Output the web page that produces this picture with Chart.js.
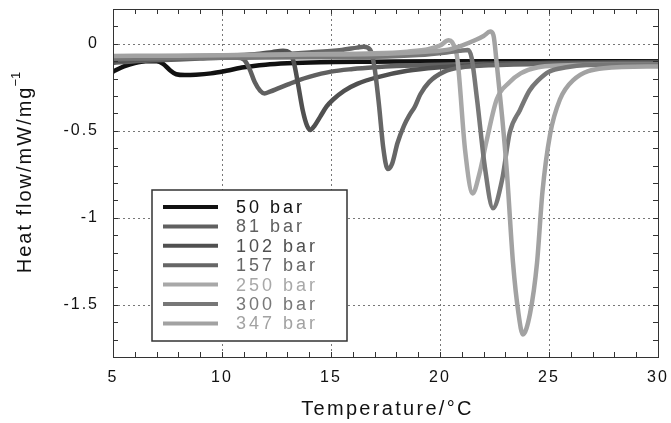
<!DOCTYPE html>
<html><head><meta charset="utf-8">
<script src="https://cdn.jsdelivr.net/npm/chart.js@4.4.0/dist/chart.umd.min.js"></script>
<style>html,body{margin:0;padding:0;background:#fff}#wrap{width:671px;height:423px;position:relative}</style>
</head><body><div id="wrap"><canvas id="c" width="671" height="423"></canvas></div>
<script>
// ---- data ----
const seriesLabels = ['50 bar','81 bar','102 bar','157 bar','250 bar','300 bar','347 bar'];
const seriesColors = ['#111111','#606060','#505050','#666666','#a8a8a8','#777777','#a2a2a2'];

const temp50 = [5, 5.5, 6, 6.5, 7, 7.3, 7.6, 7.9, 8.3, 8.8, 9.5, 10.2, 11, 12, 13, 14.5, 17, 20, 25, 30];
const flow50 = [-0.16, -0.13, -0.11, -0.1, -0.1, -0.115, -0.15, -0.175, -0.18, -0.178, -0.17, -0.155, -0.135, -0.12, -0.112, -0.106, -0.103, -0.1, -0.1, -0.1];

const temp81 = [5, 6, 7, 8, 9, 10, 10.7, 11.0, 11.25, 11.5, 11.75, 11.95, 12.2, 12.6, 13, 13.5, 14, 15, 16, 17, 18, 20, 22, 25, 30];
const flow81 = [-0.11, -0.1, -0.095, -0.09, -0.085, -0.08, -0.08, -0.09, -0.14, -0.22, -0.27, -0.285, -0.275, -0.255, -0.235, -0.21, -0.19, -0.16, -0.145, -0.135, -0.128, -0.12, -0.115, -0.11, -0.11];

const temp102 = [5, 6, 8, 10, 11.5, 12.3, 12.8, 13.1, 13.3, 13.5, 13.7, 13.9, 14.05, 14.25, 14.5, 14.8, 15.1, 15.6, 16.2, 17.2, 18.5, 20, 22, 25, 30];
const flow102 = [-0.1, -0.09, -0.08, -0.07, -0.06, -0.048, -0.04, -0.05, -0.11, -0.24, -0.38, -0.47, -0.495, -0.47, -0.42, -0.36, -0.32, -0.27, -0.23, -0.19, -0.155, -0.135, -0.12, -0.11, -0.105];

const temp157 = [5, 7, 10, 12, 14, 15.5, 16.2, 16.5, 16.8, 17.0, 17.2, 17.4, 17.6, 17.8, 18.05, 18.35, 18.6, 18.85, 19.1, 19.5, 20.2, 21, 22, 25, 30];
const flow157 = [-0.09, -0.085, -0.075, -0.065, -0.05, -0.035, -0.022, -0.017, -0.035, -0.14, -0.35, -0.6, -0.72, -0.69, -0.57, -0.47, -0.41, -0.36, -0.29, -0.22, -0.16, -0.135, -0.125, -0.115, -0.11];

const temp250 = [5, 8, 11, 14, 17, 18.5, 19.5, 20.0, 20.4, 20.55, 20.8, 21.15, 21.5, 21.8, 22.15, 22.6, 23.2, 23.7, 24.5, 25.5, 27, 30];
const flow250 = [-0.075, -0.07, -0.065, -0.06, -0.055, -0.045, -0.03, -0.01, 0.02, 0.01, -0.09, -0.61, -0.86, -0.75, -0.55, -0.32, -0.22, -0.17, -0.135, -0.125, -0.12, -0.12];

const temp300 = [5, 8, 11, 14, 17, 19, 20.3, 20.9, 21.28, 21.45, 21.7, 22.06, 22.43, 22.85, 23.2, 23.67, 24.1, 24.5, 25, 25.8, 26.7, 28, 30];
const flow300 = [-0.085, -0.082, -0.08, -0.078, -0.075, -0.065, -0.05, -0.04, -0.035, -0.08, -0.32, -0.71, -0.945, -0.78, -0.51, -0.38, -0.27, -0.21, -0.16, -0.135, -0.122, -0.12, -0.12];

const temp347 = [5, 8, 11, 14, 17, 19, 20.3, 21, 21.6, 22.0, 22.3, 22.45, 22.6, 22.85, 23.07, 23.35, 23.6, 23.8, 24.13, 24.45, 24.7, 25.05, 25.5, 26.1, 27.5, 30];
const flow347 = [-0.07, -0.068, -0.065, -0.062, -0.058, -0.048, -0.035, -0.01, 0.02, 0.045, 0.07, 0.05, -0.11, -0.42, -0.74, -1.26, -1.55, -1.67, -1.55, -1.26, -0.85, -0.52, -0.32, -0.21, -0.14, -0.13];

const xTicks = [5, 10, 15, 20, 25, 30];
const yTicks = [0, -0.5, -1, -1.5];
const yTickLabels = ['0', '-0.5', '-1', '-1.5'];
const xTitle = 'Temperature/°C';
const yTitle = 'Heat flow/mW/mg';
const yTitleSup = '−1';

// ---- build ----
const temps = [temp50, temp81, temp102, temp157, temp250, temp300, temp347];
const flows = [flow50, flow81, flow102, flow157, flow250, flow300, flow347];
const datasets = seriesLabels.map((lab, i) => ({
  label: lab,
  data: temps[i].map((t, k) => ({x: t, y: flows[i][k]})),
  borderColor: seriesColors[i],
  borderWidth: 4.5,
  pointRadius: 0,
  fill: false,
  cubicInterpolationMode: 'monotone',
  order: seriesLabels.length - i
}));

const FONT = '"Liberation Sans", Arial, sans-serif';

function zeroPad(s) { s.paddingLeft = 0; s.paddingRight = 0; s.paddingTop = 0; s.paddingBottom = 0; }

const decor = {
  id: 'decor',
  beforeDraw(chart) { chart.ctx.letterSpacing = '2px'; },
  beforeDatasetsDraw(chart) {
    const ctx = chart.ctx;
    const a = chart.chartArea;
    const xs = chart.scales.x, ys = chart.scales.y;
    ctx.save();
    ctx.strokeStyle = '#777';
    ctx.lineWidth = 1;
    ctx.setLineDash([2, 3]);
    ctx.beginPath();
    xTicks.forEach(v => {
      const px = Math.round(xs.getPixelForValue(v)) + 0.5;
      ctx.moveTo(px, a.top); ctx.lineTo(px, a.bottom);
    });
    yTicks.forEach(v => {
      const py = Math.round(ys.getPixelForValue(v)) + 0.5;
      ctx.moveTo(a.left, py); ctx.lineTo(a.right, py);
    });
    ctx.stroke();
    ctx.restore();
  },
  afterDraw(chart) {
    const ctx = chart.ctx;
    const a = chart.chartArea;
    const xs = chart.scales.x, ys = chart.scales.y;
    ctx.save();
    ctx.letterSpacing = '0px';
    // frame
    ctx.strokeStyle = '#333';
    ctx.lineWidth = 1;
    ctx.strokeRect(Math.round(a.left) + 0.5, Math.round(a.top) + 0.5, Math.round(a.right - a.left), Math.round(a.bottom - a.top));
    // minor ticks inward on all sides
    ctx.beginPath();
    for (let v = 5; v <= 30; v += 1) {
      const px = Math.round(xs.getPixelForValue(v)) + 0.5;
      ctx.moveTo(px, a.bottom); ctx.lineTo(px, a.bottom - 5);
      ctx.moveTo(px, a.top); ctx.lineTo(px, a.top + 5);
    }
    for (let k = -18; k <= 2; k++) {
      const py = Math.round(ys.getPixelForValue(k / 10)) + 0.5;
      ctx.moveTo(a.left, py); ctx.lineTo(a.left + 5, py);
      ctx.moveTo(a.right, py); ctx.lineTo(a.right - 5, py);
    }
    ctx.stroke();

    // legend box
    const bx = 152, by = 190, bw = 195, bh = 151;
    ctx.fillStyle = '#fff';
    ctx.fillRect(bx, by, bw, bh);
    ctx.lineWidth = 1.5;
    ctx.strokeStyle = '#333';
    ctx.strokeRect(bx, by, bw, bh);
    ctx.font = '18px ' + FONT;
    ctx.letterSpacing = '3px';
    ctx.textBaseline = 'middle';
    ctx.textAlign = 'left';
    chart.data.datasets.forEach((d, i) => {
      const y = 207 + i * 19.4;
      ctx.strokeStyle = d.borderColor;
      ctx.lineWidth = 4;
      ctx.beginPath(); ctx.moveTo(163, y); ctx.lineTo(218, y); ctx.stroke();
      ctx.fillStyle = d.borderColor;
      ctx.fillText(d.label, 236, y + 1);
    });

    // x title
    ctx.fillStyle = '#111';
    ctx.font = '20px ' + FONT;
    ctx.letterSpacing = '2.3px';
    ctx.textAlign = 'center';
    ctx.fillText(xTitle, (a.left + a.right) / 2 + 2, 409);

    // y title
    ctx.save();
    ctx.translate(25, 172);
    ctx.rotate(-Math.PI / 2);
    ctx.textAlign = 'left';
    ctx.textBaseline = 'middle';
    ctx.font = '20px ' + FONT;
    ctx.letterSpacing = '2px';
    const w1 = ctx.measureText(yTitle).width;
    ctx.font = '13px ' + FONT;
    ctx.letterSpacing = '0px';
    const w2 = ctx.measureText(yTitleSup).width;
    const start = -(w1 + w2) / 2;
    ctx.font = '20px ' + FONT;
    ctx.letterSpacing = '2px';
    ctx.fillText(yTitle, start, 0);
    ctx.font = '13px ' + FONT;
    ctx.letterSpacing = '0px';
    ctx.fillText(yTitleSup, start + w1 - 1, -9);
    ctx.restore();
    ctx.restore();
  }
};

new Chart(document.getElementById('c'), {
  type: 'line',
  data: { datasets },
  options: {
    responsive: false,
    animation: false,
    devicePixelRatio: 1,
    layout: { padding: { left: 0, right: 13, top: 9, bottom: 0 } },
    plugins: { legend: { display: false }, tooltip: { enabled: false } },
    scales: {
      x: {
        type: 'linear', min: 5, max: 30,
        afterFit: s => { s.height = 66; zeroPad(s); },
        afterBuildTicks: s => { s.ticks = xTicks.map(v => ({ value: v })); },
        grid: { display: false, drawTicks: false },
        border: { display: false },
        ticks: { padding: 11, color: '#111', font: { family: FONT, size: 16 }, maxRotation: 0,
                 callback: v => String(v) }
      },
      y: {
        type: 'linear', min: -1.8, max: 0.2,
        afterFit: s => { s.width = 113; zeroPad(s); },
        afterBuildTicks: s => { s.ticks = yTicks.map(v => ({ value: v })); },
        grid: { display: false, drawTicks: false },
        border: { display: false },
        ticks: { padding: 14, color: '#111', font: { family: FONT, size: 16 },
                 callback: v => yTickLabels[yTicks.indexOf(v)] }
      }
    }
  },
  plugins: [decor]
});
</script>
</body></html>
